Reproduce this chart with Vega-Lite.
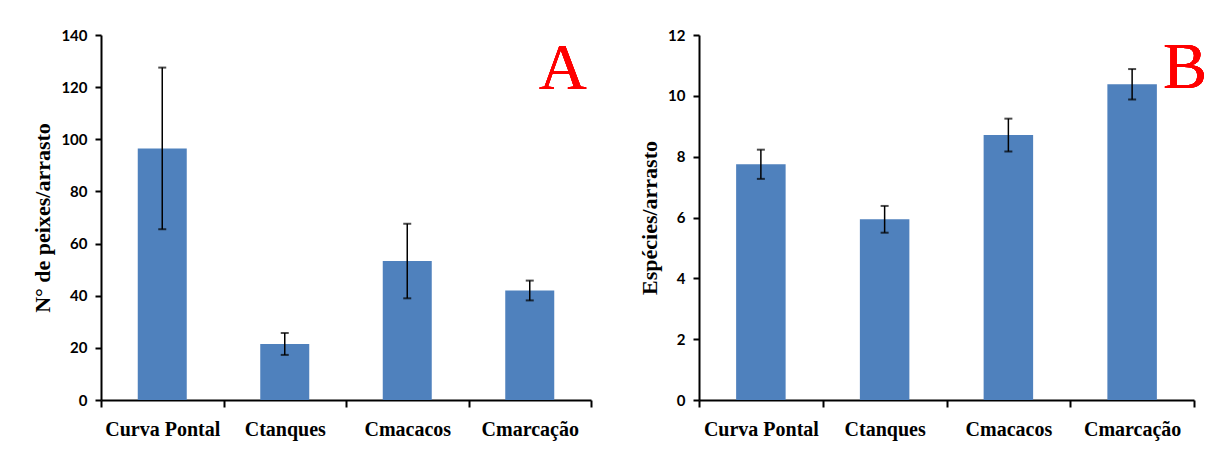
{
  "$schema": "https://vega.github.io/schema/vega-lite/v6.json",
  "background": "white",
  "padding": {"left": 31, "top": 28, "right": 5, "bottom": 5},
  "spacing": 46,
  "config": {
    "view": {"stroke": null},
    "axis": {"domainColor": "black", "domainWidth": 2, "tickColor": "black", "tickWidth": 2, "grid": false, "labelColor": "black", "titleColor": "black"},
    "axisY": {"tickSize": 6, "labelFont": "Lato", "labelFontWeight": "bold", "labelFontSize": 15, "labelPadding": 8, "titleFont": "Liberation Serif", "titleFontWeight": "bold", "titleFontSize": 22, "titlePadding": 6},
    "axisX": {"tickSize": 7, "labelFont": "Liberation Serif", "labelFontWeight": "bold", "labelFontSize": 20, "labelPadding": 12, "labelAngle": 0, "tickBand": "extent"}
  },
  "datasets": {
    "peixes": [
      {"local": "Curva Pontal", "media": 96.5, "erro": 31.0},
      {"local": "Ctanques", "media": 21.5, "erro": 4.2},
      {"local": "Cmacacos", "media": 53.3, "erro": 14.3},
      {"local": "Cmarcação", "media": 42.0, "erro": 3.8}
    ],
    "especies": [
      {"local": "Curva Pontal", "media": 7.75, "erro": 0.48},
      {"local": "Ctanques", "media": 5.94, "erro": 0.44},
      {"local": "Cmacacos", "media": 8.71, "erro": 0.54},
      {"local": "Cmarcação", "media": 10.38, "erro": 0.5}
    ]
  },
  "hconcat": [
    {
      "width": 490,
      "height": 365,
      "data": {"name": "peixes"},
      "layer": [
        {
          "mark": {"type": "bar", "color": "#4F81BD", "width": {"band": 0.4}},
          "encoding": {
            "x": {"field": "local", "type": "nominal", "sort": null, "title": null, "scale": {"paddingInner": 0, "paddingOuter": 0}},
            "y": {"field": "media", "type": "quantitative", "title": "N° de peixes/arrasto", "scale": {"domain": [0, 140], "nice": false}, "axis": {"values": [0, 20, 40, 60, 80, 100, 120, 140]}}
          }
        },
        {
          "mark": {"type": "errorbar", "ticks": {"size": 8, "color": "black", "thickness": 2}, "rule": {"color": "black", "strokeWidth": 1.5}},
          "encoding": {
            "x": {"field": "local", "type": "nominal", "sort": null, "title": null},
            "y": {"field": "media", "type": "quantitative", "title": "N° de peixes/arrasto"},
            "yError": {"field": "erro"}
          }
        },
        {
          "mark": {"type": "text", "text": "A", "font": "Liberation Serif", "fontWeight": "normal", "fontSize": 66, "color": "#FF0000", "dx": 33, "baseline": "alphabetic", "align": "center"},
          "encoding": {
            "x": {"datum": "Cmarcação", "type": "nominal"},
            "y": {"datum": 119.4, "type": "quantitative"}
          }
        }
      ]
    },
    {
      "width": 495,
      "height": 365,
      "data": {"name": "especies"},
      "layer": [
        {
          "mark": {"type": "bar", "color": "#4F81BD", "width": {"band": 0.4}},
          "encoding": {
            "x": {"field": "local", "type": "nominal", "sort": null, "title": null, "scale": {"paddingInner": 0, "paddingOuter": 0}},
            "y": {"field": "media", "type": "quantitative", "title": "Espécies/arrasto", "scale": {"domain": [0, 12], "nice": false}, "axis": {"values": [0, 2, 4, 6, 8, 10, 12]}}
          }
        },
        {
          "mark": {"type": "errorbar", "ticks": {"size": 8, "color": "black", "thickness": 2}, "rule": {"color": "black", "strokeWidth": 1.5}},
          "encoding": {
            "x": {"field": "local", "type": "nominal", "sort": null, "title": null},
            "y": {"field": "media", "type": "quantitative", "title": "Espécies/arrasto"},
            "yError": {"field": "erro"}
          }
        },
        {
          "mark": {"type": "text", "text": "B", "font": "Liberation Serif", "fontWeight": "normal", "fontSize": 66, "color": "#FF0000", "dx": 53, "baseline": "alphabetic", "align": "center"},
          "encoding": {
            "x": {"datum": "Cmarcação", "type": "nominal"},
            "y": {"datum": 10.26, "type": "quantitative"}
          }
        }
      ]
    }
  ]
}
